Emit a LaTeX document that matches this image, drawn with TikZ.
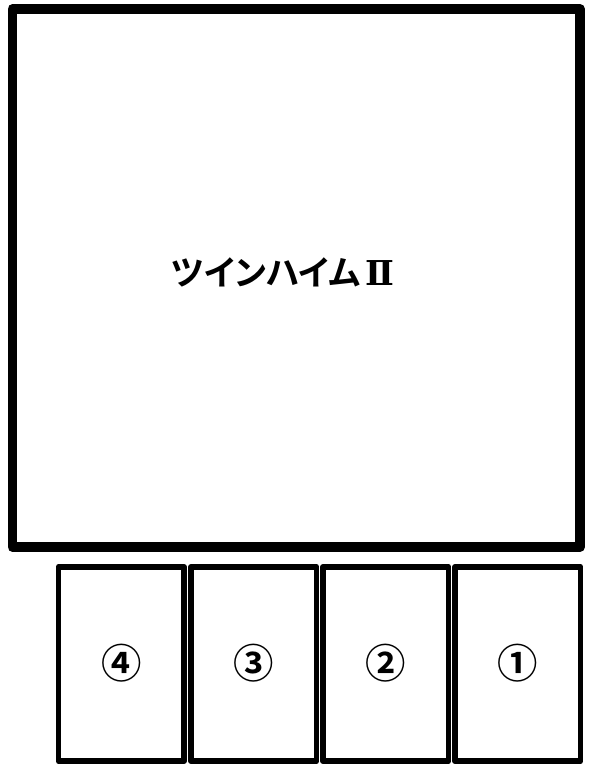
\documentclass[tikz,border=0pt]{standalone}
\usepackage{fontspec}
\newfontfamily\jpfont{Noto Sans CJK JP}[BoldFont={Noto Sans CJK JP Bold}]
\newfontfamily\jppropfont{Noto Sans CJK JP Bold}[RawFeature=+palt]
\newfontfamily\numfont{DejaVu Serif}[BoldFont={DejaVu Serif Bold}]
\tikzset{
  hall line/.style={line width=10pt*0.5669, line join=round},
  unit line/.style={line width=6pt*0.5669, line join=round},
  unit label/.style={font=\jpfont\bfseries\fontsize{23}{23}\selectfont, inner sep=0pt},
  hall label/.style={font=\jppropfont\fontsize{19.5}{19.5}\selectfont, inner sep=0pt}
}
\newcommand{\unitBox}[3]{%
  \begin{scope}[shift={(#1, 567)}]%
    \def\boxwidth{125.5}
    \def\boxheight{194}
    \draw[unit line] (0, 0) rectangle (\boxwidth, \boxheight);
    \node[unit label] (#3) at (\boxwidth/2, 96) {#2};
  \end{scope}%
}
\begin{document}
\begin{tikzpicture}[x=0.02cm, y=-0.02cm]
  \useasboundingbox (0, 0) rectangle (597, 769);
  % the building
  \draw[hall line] (12.5, 9) rectangle (580, 547);
  \node[hall label] (hall) at (283, 272) {ツインハイム\kern3pt{\numfont\bfseries Ⅱ}};

  % the units below, numbered from the right
  \unitBox{58.5}{④}{unitfour}
  \unitBox{191}{③}{unitthree}
  \unitBox{323}{②}{unittwo}
  \unitBox{455}{①}{unitone}
\end{tikzpicture}
\end{document}
